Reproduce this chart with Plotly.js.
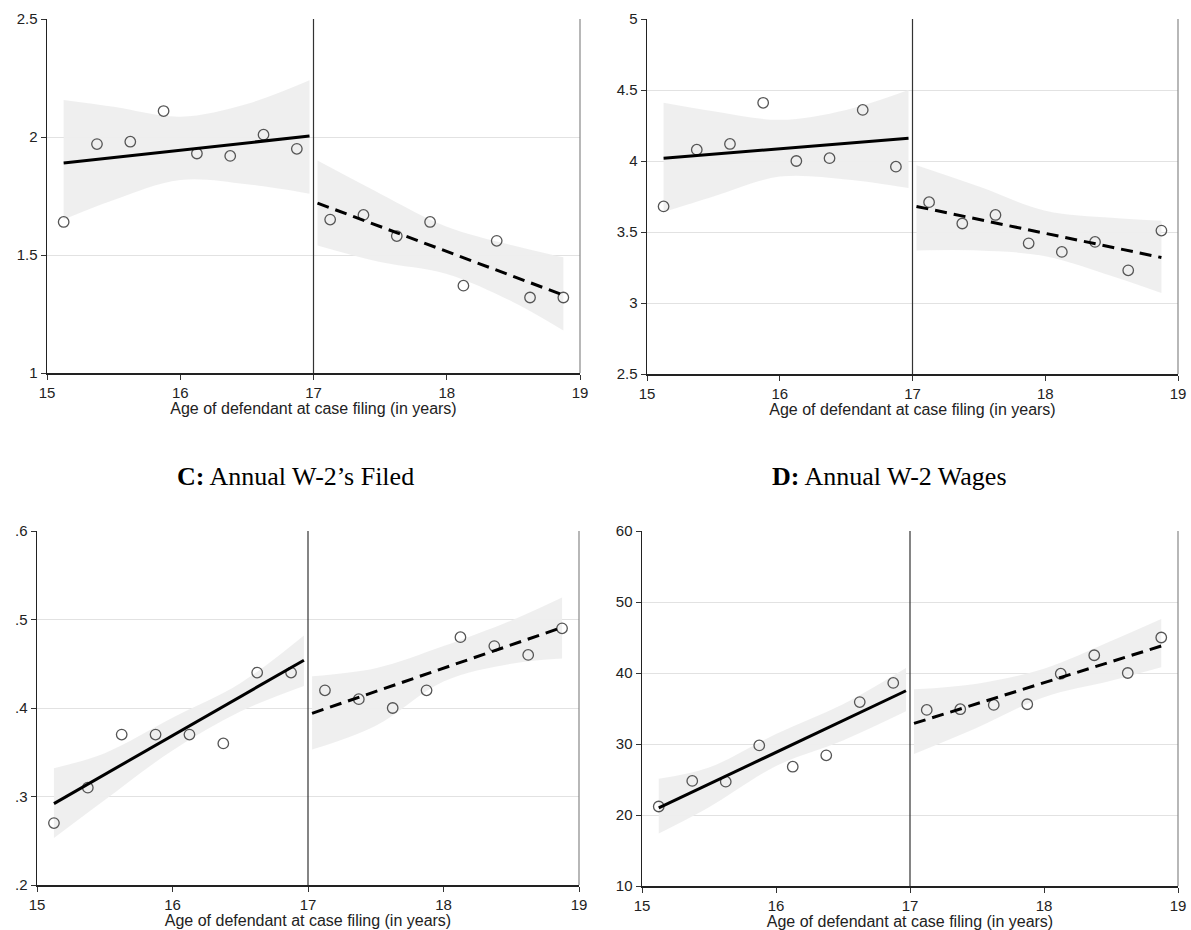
<!DOCTYPE html>
<html>
<head>
<meta charset="utf-8">
<script src="https://cdn.plot.ly/plotly-3.0.1.min.js"></script>
<style>html,body{margin:0;padding:0;background:#fff;}#chart{width:1191px;height:930px;}</style>
</head>
<body>
<div id="chart"></div>
<script>
// ---- Data ----
const binsLeft  = [15.125, 15.375, 15.625, 15.875, 16.125, 16.375, 16.625, 16.875];
const binsRight = [17.125, 17.375, 17.625, 17.875, 18.125, 18.375, 18.625, 18.875];
const cutoff = 17;

// Panel A
const aLeft  = [1.64, 1.97, 1.98, 2.11, 1.93, 1.92, 2.01, 1.95];
const aRight = [1.65, 1.67, 1.58, 1.64, 1.37, 1.56, 1.32, 1.32];
// Panel B
const bLeft  = [3.68, 4.08, 4.12, 4.41, 4.00, 4.02, 4.36, 3.96];
const bRight = [3.71, 3.56, 3.62, 3.42, 3.36, 3.43, 3.23, 3.51];
// Panel C: Annual W-2's Filed
const cLeft  = [0.27, 0.31, 0.37, 0.37, 0.37, 0.36, 0.44, 0.44];
const cRight = [0.42, 0.41, 0.40, 0.42, 0.48, 0.47, 0.46, 0.49];
// Panel D: Annual W-2 Wages
const dLeft  = [21.2, 24.8, 24.7, 29.8, 26.8, 28.4, 35.9, 38.6];
const dRight = [34.8, 34.9, 35.5, 35.6, 39.9, 42.5, 40.0, 45.0];

// Linear-fit end points
const fitLeftX  = [15.125, 16.97];
const fitRightX = [17.03, 18.875];
const aFitLeft = [1.89, 2.004],  aFitRight = [1.72, 1.33];
const bFitLeft = [4.02, 4.16],   bFitRight = [3.68, 3.32];
const cFitLeft = [0.292, 0.454], cFitRight = [0.394, 0.491];
const dFitLeft = [21.0, 37.5],   dFitRight = [32.9, 43.8];

// Confidence bands
const bandLeftX  = [15.125, 15.5, 16.0, 16.5, 16.97];
const bandRightX = [17.03, 17.5, 18.0, 18.5, 18.875];
const aBandLeftUp = [2.157, 2.128, 2.086, 2.14, 2.24], aBandLeftLo = [1.65, 1.733, 1.818, 1.80, 1.76];
const aBandRightUp = [1.90, 1.76, 1.62, 1.54, 1.49], aBandRightLo = [1.54, 1.47, 1.42, 1.30, 1.18];
const bBandLeftUp = [4.41, 4.35, 4.29, 4.36, 4.50], bBandLeftLo = [3.64, 3.75, 3.89, 3.87, 3.81];
const bBandRightUp = [3.97, 3.82, 3.65, 3.60, 3.58], bBandRightLo = [3.37, 3.37, 3.33, 3.19, 3.07];
const cBandLeftUp = [0.332, 0.349, 0.389, 0.428, 0.482], cBandLeftLo = [0.253, 0.296, 0.352, 0.396, 0.425];
const cBandRightUp = [0.436, 0.445, 0.470, 0.499, 0.525], cBandRightLo = [0.353, 0.380, 0.430, 0.450, 0.456];
const dBandLeftUp = [25.1, 26.7, 31.4, 35.6, 40.7], dBandLeftLo = [17.4, 21.1, 26.9, 30.5, 34.6];
const dBandRightUp = [37.7, 38.5, 40.6, 44.5, 47.6], dBandRightLo = [28.6, 32.3, 36.6, 38.9, 40.8];

// Axis ticks
const xTicks = [15, 16, 17, 18, 19];
const aTicks = [1, 1.5, 2, 2.5],           aTickText = ['1', '1.5', '2', '2.5'];
const bTicks = [2.5, 3, 3.5, 4, 4.5, 5],   bTickText = ['2.5', '3', '3.5', '4', '4.5', '5'];
const cTicks = [0.2, 0.3, 0.4, 0.5, 0.6],  cTickText = ['.2', '.3', '.4', '.5', '.6'];
const dTicks = [10, 20, 30, 40, 50, 60],   dTickText = ['10', '20', '30', '40', '50', '60'];

const xTitle = 'Age of defendant at case filing (in years)';
const titleC = '<b>C:</b> Annual W-2\u2019s Filed';
const titleD = '<b>D:</b> Annual W-2 Wages';

// ---- Build ----
const panels = [
  {id: '',  left: aLeft, right: aRight, fl: aFitLeft, fr: aFitRight, blu: aBandLeftUp, bll: aBandLeftLo, bru: aBandRightUp, brl: aBandRightLo, ticks: aTicks, text: aTickText},
  {id: '2', left: bLeft, right: bRight, fl: bFitLeft, fr: bFitRight, blu: bBandLeftUp, bll: bBandLeftLo, bru: bBandRightUp, brl: bBandRightLo, ticks: bTicks, text: bTickText},
  {id: '3', left: cLeft, right: cRight, fl: cFitLeft, fr: cFitRight, blu: cBandLeftUp, bll: cBandLeftLo, bru: cBandRightUp, brl: cBandRightLo, ticks: cTicks, text: cTickText},
  {id: '4', left: dLeft, right: dRight, fl: dFitLeft, fr: dFitRight, blu: dBandLeftUp, bll: dBandLeftLo, bru: dBandRightUp, brl: dBandRightLo, ticks: dTicks, text: dTickText}
];

const W = 1191, H = 930;
const dom = [
  {x: [47, 580],  y: [19, 373]},
  {x: [647, 1178], y: [19, 374]},
  {x: [37, 579],  y: [531, 885]},
  {x: [642, 1178], y: [531, 886]}
];

const traces = [];
const layout = {
  width: W, height: H,
  margin: {l: 0, r: 0, t: 0, b: 0},
  paper_bgcolor: '#fff', plot_bgcolor: '#fff',
  showlegend: false,
  font: {family: 'Liberation Sans, Arial, sans-serif', color: '#222'},
  shapes: [], annotations: []
};

const bandColor = 'rgba(238,238,238,0.95)';

function addBand(xs, lo, up, xa, ya) {
  traces.push({x: xs, y: lo, xaxis: xa, yaxis: ya, mode: 'lines',
    line: {width: 0, shape: 'spline', smoothing: 1}, hoverinfo: 'skip'});
  traces.push({x: xs, y: up, xaxis: xa, yaxis: ya, mode: 'lines', fill: 'tonexty', fillcolor: bandColor,
    line: {width: 0, shape: 'spline', smoothing: 1}, hoverinfo: 'skip'});
}

panels.forEach((p, i) => {
  const xa = 'x' + p.id, ya = 'y' + p.id;
  addBand(bandLeftX, p.bll, p.blu, xa, ya);
  addBand(bandRightX, p.brl, p.bru, xa, ya);
  // scatter
  traces.push({x: binsLeft.concat(binsRight), y: p.left.concat(p.right), xaxis: xa, yaxis: ya,
    mode: 'markers', marker: {symbol: 'circle-open', size: 10.5, color: '#555', line: {width: 1.3, color: '#555'}}});
  // fits
  traces.push({x: fitLeftX, y: p.fl, xaxis: xa, yaxis: ya, mode: 'lines', line: {color: '#000', width: 3}});
  traces.push({x: fitRightX, y: p.fr, xaxis: xa, yaxis: ya, mode: 'lines', line: {color: '#000', width: 3, dash: '12px,7px'}});

  const d = dom[i];
  layout['xaxis' + p.id] = {
    domain: [d.x[0] / W, d.x[1] / W], anchor: ya, range: [15, 19],
    tickvals: xTicks, ticks: 'outside', ticklen: 5, tickcolor: '#333', tickwidth: 1,
    showline: true, linecolor: '#222', linewidth: 1.5, showgrid: false, zeroline: false,
    tickfont: {size: 15, color: '#222'},
    title: {text: xTitle, font: {size: 16, color: '#222'}, standoff: 0}
  };
  layout['yaxis' + p.id] = {
    domain: [1 - d.y[1] / H, 1 - d.y[0] / H], anchor: xa,
    range: [p.ticks[0], p.ticks[p.ticks.length - 1]],
    tickvals: p.ticks, ticktext: p.text, ticks: 'outside', ticklen: 5, tickcolor: '#333', tickwidth: 1,
    showline: true, linecolor: '#222', linewidth: 1.5, showgrid: true, gridcolor: '#e2e2e2', gridwidth: 1,
    zeroline: false, tickfont: {size: 15, color: '#222'}
  };
  // cutoff line
  layout.shapes.push({type: 'line', xref: xa, yref: ya + ' domain', x0: cutoff, x1: cutoff, y0: 0, y1: 1,
    line: {color: '#333', width: 1.2}, layer: 'above'});
  // right frame line
  layout.shapes.push({type: 'line', xref: xa + ' domain', yref: ya + ' domain', x0: 1, x1: 1, y0: 0, y1: 1,
    line: {color: '#888', width: 1.2}});
});

layout.annotations.push({text: titleC, xref: 'paper', yref: 'paper', x: 295 / W, y: 1 - 476 / H,
  xanchor: 'center', yanchor: 'middle', showarrow: false, font: {family: 'Liberation Serif, Times New Roman, serif', size: 26, color: '#000'}});
layout.annotations.push({text: titleD, xref: 'paper', yref: 'paper', x: 889 / W, y: 1 - 476 / H,
  xanchor: 'center', yanchor: 'middle', showarrow: false, font: {family: 'Liberation Serif, Times New Roman, serif', size: 26, color: '#000'}});

Plotly.newPlot('chart', traces, layout, {staticPlot: true, displayModeBar: false});
</script>
</body>
</html>
